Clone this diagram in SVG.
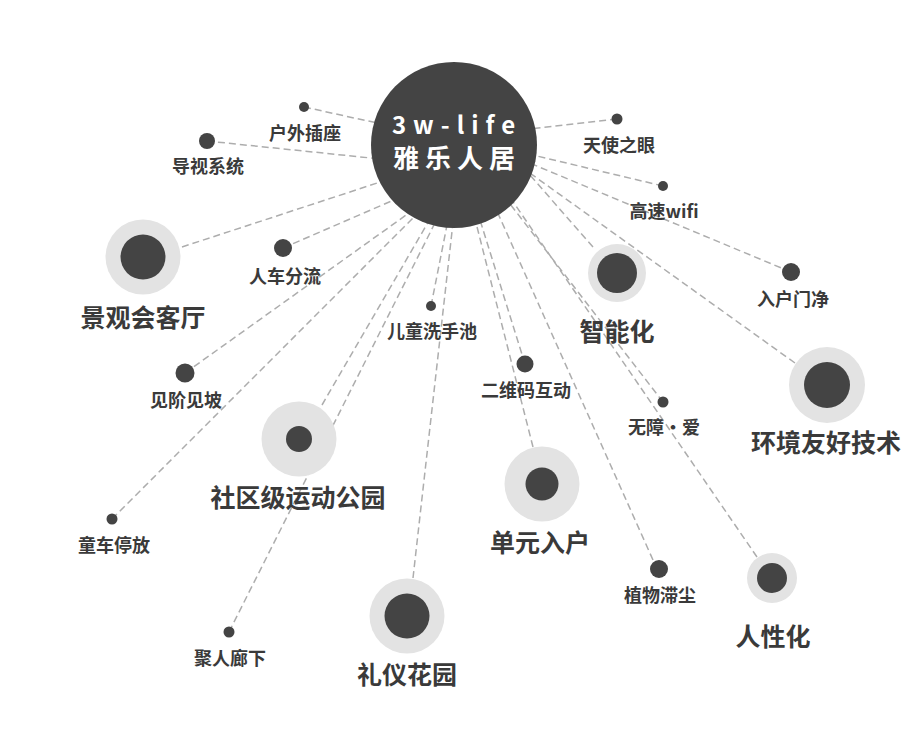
<svg xmlns="http://www.w3.org/2000/svg" width="910" height="747" viewBox="0 0 910 747">
<style>
.c{stroke:#adadad;stroke-width:1.5;stroke-dasharray:7 4;fill:none}
.d{fill:#444444}
.r{fill:#e3e3e3}
.t{font-family:"Noto Sans CJK SC","Noto Sans",sans-serif;font-weight:700;fill:#3a3a3a;text-anchor:middle}
.s{font-size:18px}
.b{font-size:25px}
.h{font-family:"Noto Sans CJK SC","Noto Sans",sans-serif;font-weight:700;fill:#ffffff;text-anchor:middle}
</style>
<rect width="910" height="747" fill="#ffffff"/>
<g id="connectors">
<line class="c" x1="304" y1="107" x2="400" y2="128"/>
<line class="c" x1="207" y1="141" x2="390" y2="160"/>
<line class="c" x1="182" y1="247" x2="420" y2="169"/>
<line class="c" x1="283" y1="248" x2="410" y2="193"/>
<line class="c" x1="185" y1="373" x2="430" y2="198"/>
<line class="c" x1="112" y1="519" x2="440" y2="191"/>
<line class="c" x1="322" y1="405" x2="441" y2="200"/>
<line class="c" x1="229" y1="632" x2="445" y2="203"/>
<line class="c" x1="431" y1="306" x2="449" y2="215"/>
<line class="c" x1="413" y1="578" x2="455" y2="205"/>
<line class="c" x1="525" y1="364" x2="480" y2="220"/>
<line class="c" x1="533" y1="447" x2="474" y2="215"/>
<line class="c" x1="653" y1="560" x2="492" y2="200"/>
<line class="c" x1="663" y1="402" x2="507" y2="200"/>
<line class="c" x1="757" y1="557" x2="505" y2="190"/>
<line class="c" x1="593" y1="247" x2="515" y2="158"/>
<line class="c" x1="795" y1="363" x2="520" y2="166"/>
<line class="c" x1="791" y1="272" x2="520" y2="159"/>
<line class="c" x1="663" y1="186" x2="520" y2="152"/>
<line class="c" x1="617" y1="119" x2="520" y2="130"/>
</g>
<g id="n-huwai"><circle class="d" cx="304" cy="107" r="5"/><text class="t s" x="305" y="140">户外插座</text></g>
<g id="n-daoshi"><circle class="d" cx="207" cy="141" r="8"/><text class="t s" x="208" y="173">导视系统</text></g>
<g id="n-jingguan"><circle class="r" cx="143" cy="257" r="37.5"/><circle class="d" cx="143" cy="257" r="22.5"/><text class="t b" x="143" y="327">景观会客厅</text></g>
<g id="n-renche"><circle class="d" cx="283" cy="248" r="9"/><text class="t s" x="285" y="283">人车分流</text></g>
<g id="n-ertong"><circle class="d" cx="431" cy="306" r="5"/><text class="t s" x="432" y="338">儿童洗手池</text></g>
<g id="n-jianjie"><circle class="d" cx="185" cy="373" r="9.5"/><text class="t s" x="186" y="407">见阶见坡</text></g>
<g id="n-tongche"><circle class="d" cx="112" cy="519" r="5.5"/><text class="t s" x="114" y="552">童车停放</text></g>
<g id="n-yundong"><circle class="r" cx="299" cy="439" r="37.5"/><circle class="d" cx="299" cy="439" r="13"/><text class="t b" x="298" y="507">社区级运动公园</text></g>
<g id="n-juren"><circle class="d" cx="229" cy="632" r="5.5"/><text class="t s" x="230" y="665">聚人廊下</text></g>
<g id="n-liyi"><circle class="r" cx="407" cy="616" r="37.5"/><circle class="d" cx="407" cy="616" r="22.5"/><text class="t b" x="407" y="684">礼仪花园</text></g>
<g id="n-erweima"><circle class="d" cx="525" cy="364" r="8.5"/><text class="t s" x="526" y="397">二维码互动</text></g>
<g id="n-danyuan"><circle class="r" cx="542" cy="484" r="37.5"/><circle class="d" cx="542" cy="484" r="16.5"/><text class="t b" x="540" y="552">单元入户</text></g>
<g id="n-zhiwu"><circle class="d" cx="659" cy="569" r="9"/><text class="t s" x="660" y="602">植物滞尘</text></g>
<g id="n-wuzhang"><circle class="d" cx="663" cy="402" r="5.5"/><text class="t s" x="664" y="434">无障·爱</text></g>
<g id="n-renxing"><circle class="r" cx="772" cy="578" r="25"/><circle class="d" cx="772" cy="578" r="15"/><text class="t b" x="773" y="646">人性化</text></g>
<g id="n-zhineng"><circle class="r" cx="617" cy="273" r="29"/><circle class="d" cx="617" cy="273" r="20"/><text class="t b" x="617" y="341">智能化</text></g>
<g id="n-huanjing"><circle class="r" cx="827" cy="385" r="38"/><circle class="d" cx="827" cy="385" r="23"/><text class="t b" x="826" y="452">环境友好技术</text></g>
<g id="n-ruhu"><circle class="d" cx="791" cy="272" r="9"/><text class="t s" x="793" y="306">入户门净</text></g>
<g id="n-wifi"><circle class="d" cx="663" cy="186" r="5"/><text class="t s" x="664" y="218">高速wifi</text></g>
<g id="n-tianshi"><circle class="d" cx="617" cy="119" r="5.5"/><text class="t s" x="619" y="152">天使之眼</text></g>
<g id="hub"><circle class="d" cx="454" cy="145" r="83"/><text class="h" x="457" y="134" font-size="24" letter-spacing="7">3w-life</text><text class="h" x="457" y="168" font-size="26" letter-spacing="6">雅乐人居</text></g>
</svg>
